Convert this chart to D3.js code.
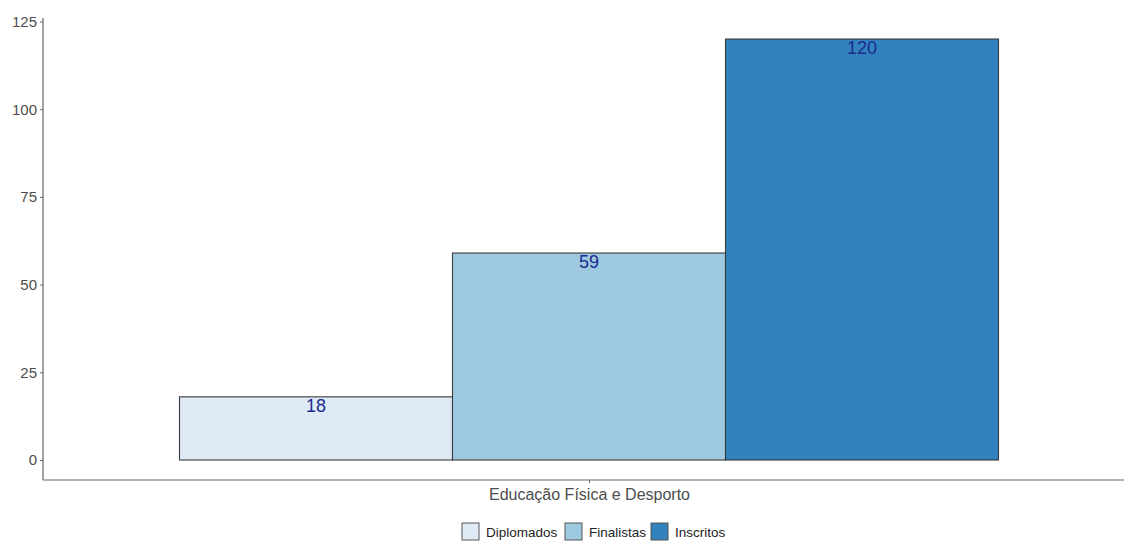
<!DOCTYPE html>
<html><head><meta charset="utf-8">
<script src="https://cdn.jsdelivr.net/npm/d3@7"></script>
<style>body{margin:0;background:#fff}svg{display:block}text{font-family:"Liberation Sans",Arial,sans-serif}</style>
</head><body><svg id="c" width="1124" height="541"></svg>
<script>
const categories = ["Educação Física e Desporto"];
const series = ["Diplomados","Finalistas","Inscritos"];
const values = [18, 59, 120];
const colors = ["#deebf7","#9ecae1","#3182bd"];
const yTicks = [0,25,50,75,100,125];

(function(){
const svg = d3.select("#c");
const mLeft = 43, mRight = 1135, mBottom = 480;
const x = d3.scaleLinear().domain([0.4,1.6]).range([mLeft,mRight]);
const y = d3.scaleLinear().domain([0,125]).range([460,21.5]);

// bars
const bw = 0.9/series.length;
svg.selectAll("rect.bar").data(values).enter().append("rect")
  .attr("x",(d,i)=>x(1-0.45+i*bw))
  .attr("width",(d,i)=>x(1-0.45+(i+1)*bw)-x(1-0.45+i*bw))
  .attr("y",d=>y(d)).attr("height",d=>y(0)-y(d))
  .attr("fill",(d,i)=>colors[i]).attr("stroke","#3a3a3a").attr("stroke-width",1.1);

svg.selectAll("text.lab").data(values).enter().append("text")
  .attr("x",(d,i)=>x(1-0.45+(i+0.5)*bw)).attr("y",d=>y(d)+15)
  .attr("text-anchor","middle").attr("font-size",18).attr("fill","#1c2a8f")
  .text(d=>d);

// y axis
const ya = d3.axisLeft(y).tickValues(yTicks).tickSize(3).tickPadding(3);
const gy = svg.append("g").attr("transform",`translate(${mLeft},0)`).call(ya);
gy.select(".domain").remove();
gy.selectAll("line").attr("stroke","#666");
gy.selectAll("text").attr("font-size",15).attr("fill","#4d4d4d").attr("font-family","Liberation Sans, Arial, sans-serif");
svg.append("line").attr("x1",mLeft).attr("x2",mLeft).attr("y1",18).attr("y2",mBottom).attr("stroke","#666").attr("stroke-width",1.2);

// x axis
svg.append("line").attr("x1",mLeft).attr("x2",1124).attr("y1",mBottom).attr("y2",mBottom).attr("stroke","#666").attr("stroke-width",1.2);
const xa = d3.axisBottom(d3.scalePoint().domain(categories).range([x(1),x(1)]).padding(0)).tickSize(3).tickPadding(6);
const gx = svg.append("g").attr("transform",`translate(0,${mBottom})`).call(xa);
gx.select(".domain").remove();
gx.selectAll("line").attr("stroke","#666");
gx.selectAll("text").attr("font-size",16).attr("fill","#4d4d4d").attr("font-family","Liberation Sans, Arial, sans-serif");

// legend
const legX = [462, 565, 651];
const lg = svg.append("g");
series.forEach((s,i)=>{
  lg.append("rect").attr("x",legX[i]).attr("y",523).attr("width",17).attr("height",17)
    .attr("fill",colors[i]).attr("stroke","#555").attr("stroke-width",1);
  lg.append("text").attr("x",legX[i]+24).attr("y",536.5).attr("font-size",13.5).attr("fill","#222").text(s);
});
})();
</script></body></html>
